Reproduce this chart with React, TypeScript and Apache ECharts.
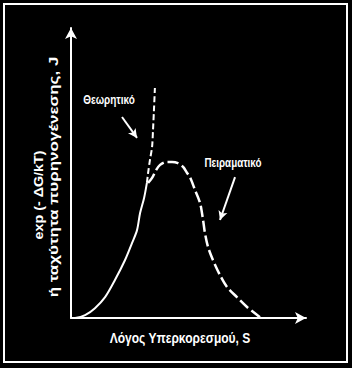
import React, { useEffect, useRef } from "react";
import * as echarts from "echarts";

// Curve points in arbitrary units (x: supersaturation 0..10, y: rate 0..10)
const theoreticalSolid: [number, number][] = [
  [0, 0], [0.17, 0], [0.6, 0.1], [1.02, 0.34], [1.45, 0.72], [1.87, 1.31],
  [2.3, 2.0], [2.6, 2.59], [2.81, 3.03], [2.94, 3.62], [3.11, 4.14], [3.23, 4.66],
];
const theoreticalDashed: [number, number][] = [
  [3.23, 4.66], [3.28, 5.0], [3.36, 5.45], [3.45, 5.9], [3.49, 6.48], [3.53, 7.17], [3.57, 7.93],
];
const experimental: [number, number][] = [
  [3.28, 4.66], [3.45, 4.83], [3.62, 5.1], [3.79, 5.28], [4.04, 5.38], [4.3, 5.38],
  [4.55, 5.34], [4.77, 5.21], [4.94, 5.0], [5.06, 4.86], [5.28, 4.41], [5.49, 3.97],
  [5.62, 3.38], [5.7, 2.93], [5.83, 2.45], [6.04, 2.0], [6.34, 1.48], [6.64, 1.07],
  [7.06, 0.72], [7.49, 0.38], [8.04, 0.03],
];
const theoreticalArrow: [number, number][] = [[2.17, 6.93], [2.81, 6.21]];
const experimentalArrow: [number, number][] = [[6.98, 4.86], [6.34, 3.38]];

const labelTheoretical = "Θεωρητικό";
const labelExperimental = "Πειραματικό";
const xName = "Λόγος Υπερκορεσμού, S";
const yName1 = "exp (- ΔG/kT)";
const yName2 = "ή ταχύτητα πυρηνογένεσης, J";

const FONT = '"Liberation Sans", Arial, sans-serif';

export default function App() {
  const ref = useRef<HTMLDivElement>(null);
  useEffect(() => {
    if (!ref.current) return;
    const chart = echarts.init(ref.current, null, { renderer: "svg" });
    const axisCommon = {
      type: "value" as const,
      min: 0,
      max: 10,
      axisLine: {
        show: true,
        onZero: false,
        symbol: ["none", "arrow"],
        symbolSize: [9, 11],
        lineStyle: { color: "#fff", width: 2 },
      },
      axisTick: { show: false },
      axisLabel: { show: false },
      splitLine: { show: false },
    };
    const arrowLine = (pts: [number, number][]) => ({
      silent: true,
      animation: false,
      symbol: ["none", "arrow"],
      symbolSize: [7, 9],
      label: { show: false },
      lineStyle: { color: "#fff", width: 2, type: "solid" },
      data: [[{ coord: pts[0] }, { coord: pts[1] }]],
    });
    const txt = (text: string, x: number, y: number, font: string, scaleX: number, rotation = 0) => ({
      type: "text",
      x,
      y,
      rotation,
      scaleX,
      style: { text, fill: "#fff", font, align: "center", verticalAlign: "middle" },
    });
    chart.setOption({
      animation: false,
      backgroundColor: "#000",
      grid: { left: 71, right: 46, top: 28, bottom: 50 },
      xAxis: axisCommon,
      yAxis: axisCommon,
      series: [
        {
          type: "line",
          data: theoreticalSolid,
          showSymbol: false,
          smooth: 0.3,
          lineStyle: { color: "#fff", width: 2 },
          markLine: arrowLine(theoreticalArrow),
        },
        {
          type: "line",
          data: theoreticalDashed,
          showSymbol: false,
          smooth: 0.3,
          lineStyle: { color: "#fff", width: 2, type: [6, 3] },
        },
        {
          type: "line",
          data: experimental,
          showSymbol: false,
          smooth: 0.3,
          lineStyle: { color: "#fff", width: 2.5, type: [11, 4] },
          markLine: arrowLine(experimentalArrow),
        },
      ],
      graphic: [
        {
          type: "rect",
          shape: { x: 4, y: 4, width: 343, height: 358 },
          style: { fill: "none", stroke: "#fff", lineWidth: 2 },
        },
        txt(labelTheoretical, 109, 100, `bold 12px ${FONT}`, 0.83),
        txt(labelExperimental, 233, 163, `bold 12px ${FONT}`, 0.82),
        txt(xName, 180, 338, `bold 14px ${FONT}`, 0.86),
        txt(yName1, 39, 195, `bold 13px ${FONT}`, 1.1, Math.PI / 2),
        txt(yName2, 53, 177, `bold 13px ${FONT}`, 1.31, Math.PI / 2),
      ],
    });
    return () => chart.dispose();
  }, []);
  return (
    <div
      style={{ position: "absolute", left: 0, top: 0, width: 352, height: 368, background: "#000" }}
    >
      <div ref={ref} style={{ width: 352, height: 368 }} />
    </div>
  );
}
